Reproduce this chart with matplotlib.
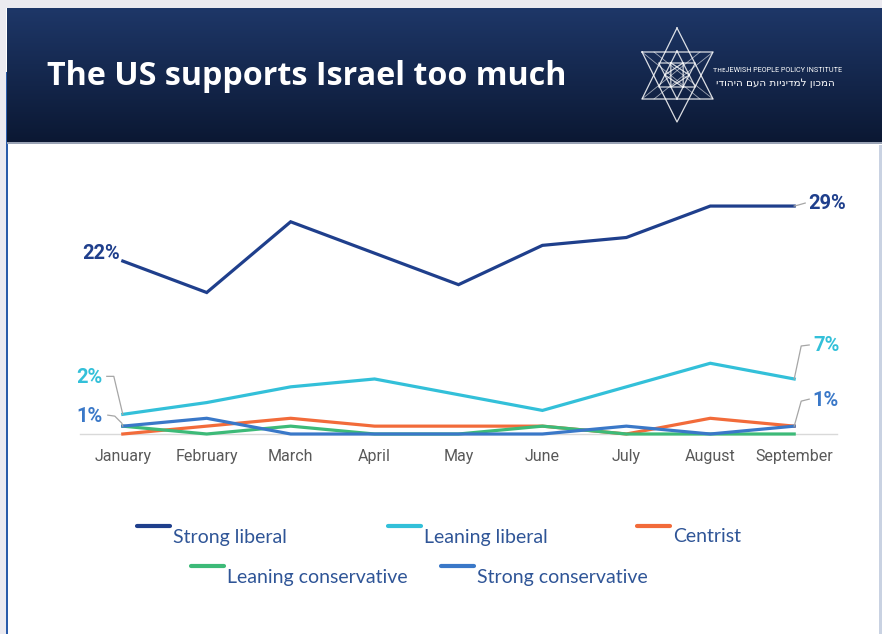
import numpy as np
import matplotlib.pyplot as plt
from matplotlib.lines import Line2D
from matplotlib.patches import Rectangle
from matplotlib.transforms import IdentityTransform

# dados (percentual)
months = ['January', 'February', 'March', 'April', 'May', 'June', 'July', 'August', 'September']
names = ['Strong liberal', 'Leaning liberal', 'Centrist', 'Leaning conservative', 'Strong conservative']
strong_liberal = [22, 18, 27, 23, 19, 24, 25, 29, 29]
leaning_liberal = [2.5, 4, 6, 7, 5, 3, 6, 9, 7]
centrist = [0, 1, 2, 1, 1, 1, 0, 2, 1]
leaning_cons = [1, 0, 1, 0, 0, 1, 0, 0, 0]
strong_cons = [1, 2, 0, 0, 0, 0, 1, 0, 1]
colors = ['#1f3f8c', '#33c0d9', '#f26b3a', '#3dba78', '#3a78c8']

title = 'The US supports Israel too much'
org_en = 'ᴛʜᴇJEWISH PEOPLE POLICY INSTITUTE'
org_he = 'המכון למדיניות העם היהודי'

W, H = 882, 634
fig = plt.figure(figsize=(W / 100, H / 100), dpi=100)
fig.patch.set_facecolor('white')

# fundo / cabecalho em pixels
bg = fig.add_axes([0, 0, 1, 1])
bg.set_xlim(0, W)
bg.set_ylim(H, 0)
bg.axis('off')
bg.add_patch(Rectangle((0, 0), W, 8, color='#ebeaf0', lw=0))
bg.add_patch(Rectangle((0, 0), 6, H, color='#ebeaf0', lw=0))
bg.add_patch(Rectangle((6, 72), 2.2, H - 72, color='#2a5caa', lw=0))
bg.add_patch(Rectangle((879, 145), 3, H - 145, color='#c9d2e2', lw=0))
grad = np.linspace(0, 1, 256).reshape(-1, 1)
c0 = np.array([0x1e, 0x37, 0x68]) / 255
c1 = np.array([0x0b, 0x18, 0x33]) / 255
img = c0[None, None, :] * (1 - grad[:, :, None]) + c1[None, None, :] * grad[:, :, None]
bg.imshow(img, extent=(7, W, 142, 8), aspect='auto', zorder=1)
bg.add_patch(Rectangle((7, 142), W - 7, 2, color='#9aa3b5', lw=0, zorder=2))
bg.text(47, 85, title, color='white', fontsize=23.2, fontweight='bold',
        family='Open Sans', va='baseline', ha='left', zorder=3)

# logo
lw_logo = 0.9
up = np.array([(677, 28), (642, 99), (713, 99), (677, 28)])
dn = np.array([(642, 52), (713, 52), (677, 122), (642, 52)])
for tri in [up, dn]:
    bg.plot(tri[:, 0], tri[:, 1], color='white', lw=lw_logo, alpha=0.85, zorder=3)
cx, cy = 677, 75
for r, rot in [(24, 0), (14, np.pi / 6)]:
    ang = np.pi / 2 + rot + np.arange(0, 4) * 2 * np.pi / 3
    bg.plot(cx + r * 0.88 * np.cos(ang), cy - r * np.sin(ang), color='white', lw=lw_logo, alpha=0.8, zorder=3)
    ang = -np.pi / 2 + rot + np.arange(0, 4) * 2 * np.pi / 3
    bg.plot(cx + r * 0.88 * np.cos(ang), cy - r * np.sin(ang), color='white', lw=lw_logo, alpha=0.8, zorder=3)
for (x0, y0), (x1, y1) in [((642, 52), (700, 99)), ((713, 52), (654, 99)), ((642, 99), (700, 52)), ((713, 99), (654, 52))]:
    bg.plot([x0, x1], [y0, y1], color='white', lw=0.6, alpha=0.6, zorder=3)
bg.text(713, 71, org_en, color='white', fontsize=5.2, family=['Roboto', 'DejaVu Sans'],
        va='center', ha='left', zorder=3)
bg.text(775, 83, org_he[::-1], color='white', fontsize=7.5, family='DejaVu Sans', va='center', ha='center', zorder=3)

# grafico
ax = fig.add_axes([80 / W, 200 / H, 757 / W, 31 * 7.86 / H])
ax.patch.set_alpha(0)
x = np.arange(len(months))
ax.set_xlim(-0.51, len(months) - 0.49)
ax.set_ylim(0, 31)
all_series = [strong_liberal, leaning_liberal, centrist, leaning_cons, strong_cons]
for s, c in zip(all_series, colors):
    ax.plot(x, s, color=c, lw=2.3, solid_joinstyle='miter', clip_on=False, zorder=3)

for sp in ['top', 'right', 'left']:
    ax.spines[sp].set_visible(False)
ax.spines['bottom'].set_color('#d9d9d9')
ax.spines['bottom'].set_linewidth(1)
ax.set_yticks([])
ax.set_xticks(x)
ax.set_xticklabels(months, fontsize=11.5, family='Roboto', color='#595959')
ax.tick_params(axis='x', length=0, pad=11)


def leader(i, v, offs):
    px, py = ax.transData.transform((i, v))
    xs = [px] + [px + dx for dx, dy in offs]
    ys = [py] + [py + dy for dx, dy in offs]
    fig.add_artist(Line2D(xs, ys, transform=IdentityTransform(), color='#a6a6a6', lw=0.9, zorder=4))


def label(txt, i, v, dx, dy, color, ha):
    ax.annotate(txt, xy=(i, v), xytext=(dx, dy), textcoords='offset pixels', ha=ha, va='center',
                color=color, fontsize=14.5, fontweight='bold', family='Roboto', annotation_clip=False)


last = len(months) - 1
label('22%', 0, strong_liberal[0], -3, 8, colors[0], 'right')
label('29%', last, strong_liberal[last], 14, 3, colors[0], 'left')
leader(last, strong_liberal[last], [(4, 1), (11, 3)])
label('2%', 0, leaning_liberal[0], -20, 37, colors[1], 'right')
leader(0, leaning_liberal[0], [(-9, 38), (-16, 38)])
label('1%', 0, strong_cons[0], -20, 10, colors[4], 'right')
leader(0, strong_cons[0], [(-1, 3), (-8, 10), (-15, 11)])
label('7%', last, leaning_liberal[last], 19, 33, colors[1], 'left')
leader(last, leaning_liberal[last], [(7, 33), (15, 34)])
label('1%', last, strong_cons[last], 18, 26, colors[4], 'left')
leader(last, strong_cons[last], [(7, 25), (15, 27)])

# legenda
leg_pos = [(137, 526), (388, 526), (637, 526), (191, 566), (441, 566)]
for (lx, ly), n, c in zip(leg_pos, names, colors):
    bg.plot([lx, lx + 33], [ly, ly], color=c, lw=3, solid_capstyle='round', zorder=3)
    bg.text(lx + 36, ly + 11, n, color='#2f5597', fontsize=14, family='Lato', va='center', ha='left', zorder=3)

plt.savefig('out.png', dpi=100)
